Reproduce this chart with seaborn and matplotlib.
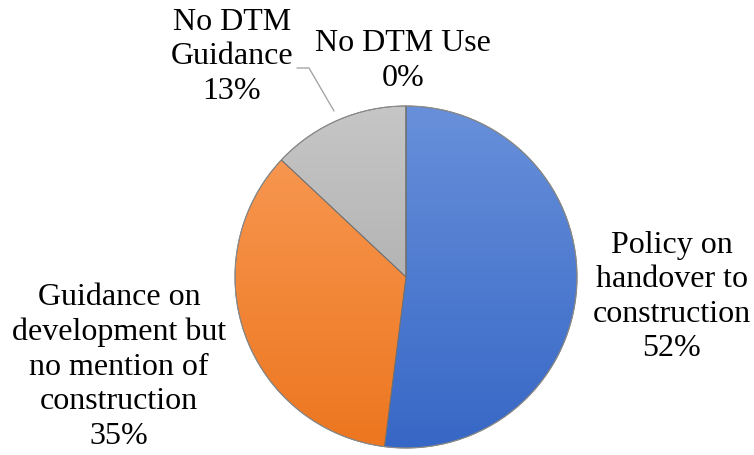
import numpy as np
import matplotlib
matplotlib.use("Agg")
import matplotlib.pyplot as plt
import seaborn as sns
from matplotlib.colors import LinearSegmentedColormap

sns.set_theme(style="white")
plt.rcParams['font.family'] = ['Liberation Serif', 'DejaVu Serif']

# ---- data ----
categories = ["Policy on\nhandover to\nconstruction",
              "Guidance on\ndevelopment but\nno mention of\nconstruction",
              "No DTM\nGuidance",
              "No DTM Use"]
values = [52, 35, 13, 0]
top_colors = ["#6890DA", "#F99C58", "#C6C6C6", "#C6C6C6"]
bottom_colors = ["#3767C6", "#ED761F", "#A2A2A2", "#A2A2A2"]

W, H = 754, 455
fig = plt.figure(figsize=(W / 100, H / 100), dpi=100)
ax = fig.add_axes([0, 0, 1, 1])

cx, cy, r = 406, H - 277, 171
wedges, _ = ax.pie(values, startangle=90, counterclock=False, center=(cx, cy),
                   radius=r, frame=True,
                   wedgeprops=dict(edgecolor="#6F6F6F", linewidth=0.6))
ax.set_xlim(0, W)
ax.set_ylim(0, H)
ax.set_aspect("equal")
ax.axis("off")

grad = np.linspace(1, 0, 256).reshape(-1, 1)
for w, tc, bc in zip(wedges, top_colors, bottom_colors):
    w.set_facecolor("none")
    cmap = LinearSegmentedColormap.from_list("g", [bc, tc])
    im = ax.imshow(grad, cmap=cmap, extent=(cx - r, cx + r, cy - r, cy + r),
                   origin="upper", aspect="auto", zorder=w.get_zorder() - 0.1,
                   interpolation="bilinear")
    im.set_clip_path(w)

# outer subtle rim
rim = plt.Circle((cx, cy), r, fill=False, edgecolor="#8a8a8a", lw=0.8, zorder=5)
ax.add_patch(rim)

label_pos = [(672, H - 297), (119, H - 367), (232, H - 57), (403, H - 61)]
for cat, v, (lx, ly) in zip(categories, values, label_pos):
    ax.text(lx, ly, f"{cat}\n{v}%", ha="center", va="center", fontsize=23,
            color="black", linespacing=1.25)

# leader line for "No DTM Guidance"
ax.plot([297, 309, 334], [H - 68, H - 68, H - 111], color="#A6A6A6", lw=1.0, zorder=6)

fig.savefig("out.png", dpi=100)
